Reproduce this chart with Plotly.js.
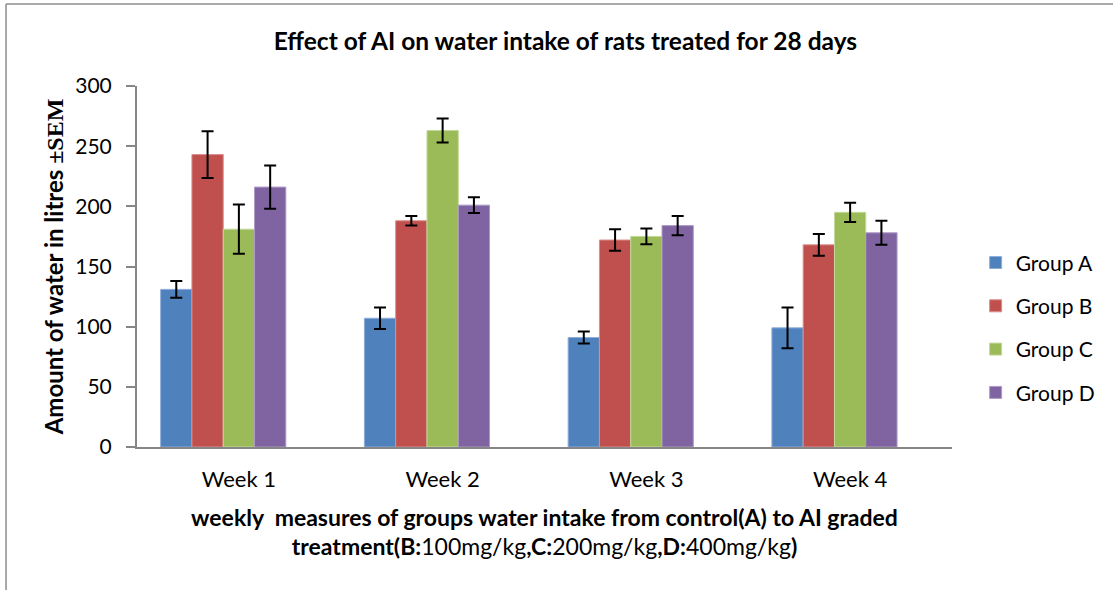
<!DOCTYPE html>
<html>
<head>
<meta charset="utf-8">
<script src="https://cdn.plot.ly/plotly-3.0.1.min.js"></script>
<style>
html,body{margin:0;padding:0;background:#fff;}
#chart{width:1113px;height:590px;}
</style>
</head>
<body>
<div id="chart"></div>
<script>
const weeks = ['Week 1', 'Week 2', 'Week 3', 'Week 4'];
const seriesNames = ['Group A', 'Group B', 'Group C', 'Group D'];
const groupA = [131, 107, 91, 99];
const groupB = [243, 188, 172, 168];
const groupC = [181, 263, 175, 195];
const groupD = [216, 201, 184, 178];
const errA = [7, 9, 5, 17];
const errB = [19.5, 4, 9, 9];
const errC = [20.5, 10, 6.5, 8];
const errD = [18, 6.5, 8, 10];
const emptySeries = [null, null, null, null];
const yTicks = [0, 50, 100, 150, 200, 250, 300];

const colors = ['#4F81BD', '#C0504D', '#9BBB59', '#8064A2'];
const edgeColors = ['#8FAEDB', '#DA8E8C', '#C3D89A', '#AE9BC6'];
const values = [groupA, groupB, groupC, groupD];
const errors = [errA, errB, errC, errD];

const FONT = 'Lato, "Open Sans", sans-serif';

const traces = values.map((v, i) => ({
  type: 'bar',
  name: seriesNames[i],
  x: weeks,
  y: v,
  legendgroup: 'g' + i,
  marker: {color: colors[i], line: {color: edgeColors[i], width: 1}},
  error_y: {type: 'data', array: errors[i], visible: true, color: '#000', thickness: 2, width: 6},
  hoverinfo: 'x+y+name'
}));
// empty fifth series (as in the original spreadsheet chart) that reserves a slot in each group
traces.push({
  type: 'bar', name: '', x: weeks, y: emptySeries, showlegend: false, hoverinfo: 'skip',
  marker: {color: 'rgba(0,0,0,0)', line: {width: 0}}
});

const layout = {
  width: 1113, height: 590,
  margin: {l: 137, r: 161, t: 86, b: 143, pad: 0, autoexpand: false},
  paper_bgcolor: '#fff', plot_bgcolor: '#fff',
  font: {family: FONT, color: '#000', size: 20},
  barmode: 'group',
  bargap: 0.232,
  bargroupgap: 0,
  showlegend: true,
  title: {
    text: '<b>Effect of AI on water intake of rats treated for 28 days</b>',
    font: {family: FONT, size: 24.5, color: '#000'},
    xref: 'container', yref: 'container', x: 0.508, y: 0.929, xanchor: 'center', yanchor: 'middle'
  },
  xaxis: {
    type: 'category',
    showline: true, linecolor: '#868686', linewidth: 2,
    ticks: '', showgrid: false, zeroline: false,
    tickfont: {family: FONT, size: 22, color: '#000'},
    ticklabelstandoff: 12,
    automargin: false,
    title: {
      text: '<b>weekly\u00a0 measures of groups water intake from control(A) to AI graded</b><br><b>treatment(B:</b>100mg/kg<b>,C:</b>200mg/kg<b>,D:</b>400mg/kg<b>)</b>',
      font: {family: FONT, size: 23, color: '#000'},
      standoff: 18
    },
    fixedrange: true
  },
  yaxis: {
    range: [0, 300],
    tickvals: yTicks,
    showline: true, linecolor: '#868686', linewidth: 2,
    ticks: 'outside', ticklen: 9, tickwidth: 2, tickcolor: '#868686',
    showgrid: false, zeroline: false,
    tickfont: {family: FONT, size: 21, color: '#000'},
    ticklabelstandoff: 10,
    automargin: false,
    title: {
      text: '<b>Amount of water in litres <span style="font-family:\'Liberation Serif\', \'DejaVu Serif\', serif">±SEM</span></b>',
      font: {family: FONT, size: 24, color: '#000'},
      standoff: 5
    },
    fixedrange: true
  },
  legend: {
    x: 1.029, xanchor: 'left', y: 0.33, yanchor: 'middle',
    font: {family: FONT, size: 21, color: '#000'},
    traceorder: 'grouped', tracegroupgap: 13,
    bgcolor: 'rgba(0,0,0,0)', borderwidth: 0,
    itemwidth: 30
  },
  shapes: [
    {type: 'line', xref: 'paper', yref: 'paper', x0: -0.1607, x1: 1.2, y0: 1.227, y1: 1.227,
     line: {color: '#8C8C8C', width: 1.5}},
    {type: 'line', xref: 'paper', yref: 'paper', x0: -0.1607, x1: -0.1607, y0: 1.227, y1: -0.4,
     line: {color: '#8C8C8C', width: 1.5}}
  ]
};

Plotly.newPlot('chart', traces, layout, {displayModeBar: false, staticPlot: true});
</script>
</body>
</html>
